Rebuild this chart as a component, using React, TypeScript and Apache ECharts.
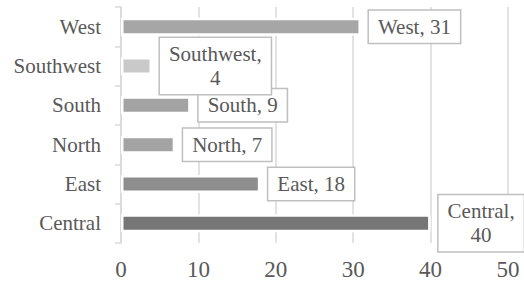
import React, { useEffect, useRef } from "react";
import * as echarts from "echarts";

const categories = ["Central", "East", "North", "South", "Southwest", "West"];
const values = [40, 18, 7, 9, 4, 31];
const barColors = ["#767676", "#8d8d8d", "#a3a3a3", "#a3a3a3", "#c9c9c9", "#a6a6a6"];
const wrappedLabels = ["Central", "Southwest"];
const xTicks = [0, 10, 20, 30, 40, 50];

const FONT = "serif";

export default function App() {
  const ref = useRef<HTMLDivElement>(null);
  useEffect(() => {
    if (!ref.current) return;
    const chart = echarts.init(ref.current, undefined, { renderer: "svg" });
    chart.setOption({
      animation: false,
      backgroundColor: "#ffffff",
      textStyle: { fontFamily: FONT },
      grid: { left: 121, right: 16, top: 7, bottom: 44, containLabel: false },
      xAxis: {
        type: "value",
        min: xTicks[0],
        max: xTicks[xTicks.length - 1],
        interval: xTicks[1] - xTicks[0],
        axisLine: { show: false },
        axisTick: { show: false },
        axisLabel: { fontSize: 23, color: "#595959", fontFamily: FONT, margin: 15 },
        splitLine: { show: true, lineStyle: { color: "#d9d9d9", width: 1.5 } },
      },
      yAxis: {
        type: "category",
        data: categories,
        axisLine: { show: true, lineStyle: { color: "#d9d9d9", width: 1.5 } },
        axisTick: { show: true, length: 6, lineStyle: { color: "#d9d9d9", width: 1.5 } },
        axisLabel: { fontSize: 21, color: "#595959", fontFamily: FONT, margin: 20 },
        splitLine: { show: false },
      },
      series: [
        {
          type: "bar",
          barWidth: 18,
          data: values.map((v, i) => ({
            value: v,
            itemStyle: { color: barColors[i], borderColor: "#ffffff", borderWidth: 2.5 },
          })),
          label: {
            show: true,
            position: "right",
            distance: 8,
            formatter: (p: any) =>
              wrappedLabels.includes(p.name)
                ? `{c|${p.name},}\n{c|${p.value}}`
                : `{c|${p.name}, ${p.value}}`,
            fontSize: 21,
            lineHeight: 24,
            fontFamily: FONT,
            color: "#595959",
            backgroundColor: "#ffffff",
            borderColor: "#bfbfbf",
            borderWidth: 1.5,
            padding: [4, 9, 4, 9],
            align: "left",
            rich: {
              c: {
                fontSize: 21,
                lineHeight: 24,
                fontFamily: FONT,
                color: "#595959",
                align: "center",
              },
            },
          },
        },
      ],
    });
    return () => chart.dispose();
  }, []);
  return (
    <div
      ref={ref}
      style={{ position: "fixed", left: 0, top: 0, width: 524, height: 287 }}
    />
  );
}
